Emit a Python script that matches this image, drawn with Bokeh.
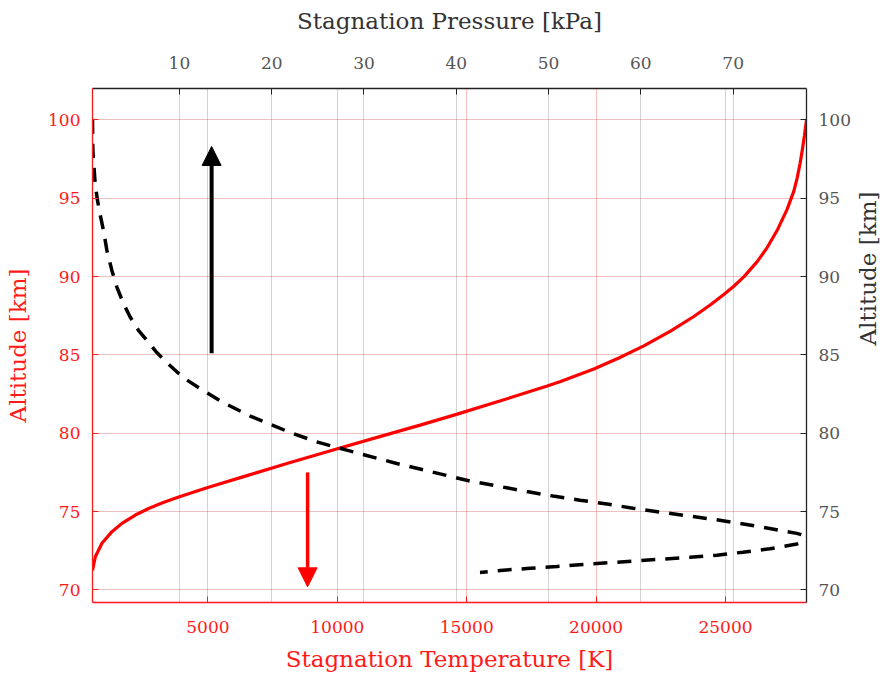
import math
from bokeh.plotting import figure
from bokeh.models import LinearAxis, Range1d, Grid, SingleIntervalTicker, Arrow, NormalHead
from bokeh.embed import file_html
from bokeh.resources import INLINE

# Stagnation temperature [K] vs altitude [km] (red solid curve)
temperature = [540, 650, 905, 1291, 1678, 2195, 2709, 3223, 3868, 5027, 6572, 8118, 9970,
               11672, 13200, 14635, 16308, 18112, 18626, 19912, 20878, 21844, 22875, 23776, 24421,
               24934, 25321, 25707, 26225, 26611, 26997, 27384, 27641, 27770, 27880, 27970, 28050, 28130]
alt_temperature = [71.25, 72.12, 72.98, 73.72, 74.25, 74.78, 75.2, 75.55, 75.93, 76.55, 77.33, 78.1, 79.0,
                   79.8, 80.52, 81.22, 82.07, 83.02, 83.3, 84.1, 84.8, 85.58, 86.52, 87.45, 88.2,
                   88.85, 89.38, 89.98, 90.95, 91.85, 92.95, 94.3, 95.45, 96.3, 97.2, 98.1, 99.0, 100.0]

# Stagnation pressure [kPa] vs altitude [km] (black dashed curve)
pressure = [0.58, 0.62, 0.87, 1.12, 1.41, 1.77, 2.14, 2.68, 3.22, 3.94, 4.66, 5.56, 6.47, 7.55,
            8.64, 9.72, 10.8, 12.24, 14.6, 17.66, 21.99, 24.88, 28.13, 33.55,
            41.49, 44.74, 47.66, 50.48, 53.4, 56.33, 59.14, 62.07, 65.0, 67.81,
            70.74, 73.67, 76.9, 79.0,
            76.9, 73.98, 71.06, 68.24, 65.32, 62.39, 59.58, 56.65, 53.73, 50.91, 47.99, 45.06, 42.57]
alt_pressure = [100.0, 98.04, 95.92, 94.86, 93.95, 92.94, 91.67, 90.39, 89.33, 88.27, 87.42, 86.57, 85.93, 85.15,
                84.5, 83.92, 83.4, 82.85, 82.0, 81.1, 80.05, 79.45, 78.92, 78.07,
                76.95, 76.6, 76.28, 75.99, 75.73, 75.48, 75.22, 74.97, 74.74, 74.51,
                74.25, 73.95, 73.61, 73.27,
                72.93, 72.63, 72.41, 72.22, 72.08, 71.97, 71.86, 71.74, 71.63, 71.5, 71.38, 71.26, 71.12]

# Arrows (temperature / altitude coordinates)
arrow_up_temperature = 5143
arrow_up_alt = [85.1, 98.3]
arrow_down_temperature = 8852
arrow_down_alt = [77.5, 70.2]

RED = "#ff1a1a"
GREY = "#555555"
FONT = "DejaVu Serif"

p = figure(frame_width=714, frame_height=514,
           x_range=Range1d(540, 28130), y_range=Range1d(69.2, 102.0),
           output_backend="svg", toolbar_location=None,
           min_border_left=92, min_border_right=70, min_border_top=88, min_border_bottom=74,
           x_axis_location="below", y_axis_location="left")
p.extra_x_ranges = {"p": Range1d(0.58, 77.95)}
p.outline_line_color = None
p.background_fill_color = "white"
p.border_fill_color = "white"

# bottom axis (temperature)
xa = p.xaxis[0]
xa.ticker = SingleIntervalTicker(interval=5000)
xa.axis_label = "Stagnation Temperature [K]"
# left axis (altitude)
ya = p.yaxis[0]
ya.ticker = SingleIntervalTicker(interval=5)
ya.axis_label = "Altitude [km]"
for ax in (xa, ya):
    ax.axis_line_color = RED
    ax.major_tick_line_color = RED
    ax.major_label_text_color = RED
    ax.axis_label_text_color = RED

# top axis (pressure)
top = LinearAxis(x_range_name="p", ticker=SingleIntervalTicker(interval=10),
                 axis_label="Stagnation Pressure [kPa]")
p.add_layout(top, "above")
# right axis (altitude)
right = LinearAxis(ticker=SingleIntervalTicker(interval=5), axis_label="Altitude [km]")
p.add_layout(right, "right")
for ax in (top, right):
    ax.axis_line_color = "#222222"
    ax.major_tick_line_color = "#222222"
    ax.major_label_text_color = GREY
    ax.axis_label_text_color = "#333333"

for ax in (xa, ya, top, right):
    ax.axis_line_width = 1.3
    ax.major_tick_in = 6
    ax.major_tick_out = 0
    ax.minor_tick_line_color = None
    ax.major_label_text_font = FONT
    ax.major_label_text_font_size = "17px"
    ax.axis_label_text_font = FONT
    ax.axis_label_text_font_style = "normal"
    ax.axis_label_text_font_size = "23px"
    ax.major_label_standoff = 8
    ax.axis_label_standoff = 10
top.major_label_standoff = 16
top.axis_label_standoff = 20
xa.major_label_standoff = 14
ya.axis_label_standoff = 14
right.axis_label_standoff = 14
right.axis_label_orientation = math.pi / 2

# grids
p.xgrid.grid_line_color = "red"
p.xgrid.grid_line_alpha = 0.25
p.ygrid.grid_line_color = "#c03030"
p.ygrid.grid_line_alpha = 0.3
pgrid = Grid(dimension=0, ticker=top.ticker, x_range_name="p",
             grid_line_color="gray", grid_line_alpha=0.35)
p.add_layout(pgrid)

# curves
p.line(temperature, alt_temperature, line_color="red", line_width=3.2)
p.line(pressure, alt_pressure, x_range_name="p", line_color="black", line_width=3.5,
       line_dash="14 10")

# arrows
p.add_layout(Arrow(end=NormalHead(size=19, fill_color="black", line_color="black"),
                   x_start=arrow_up_temperature, y_start=arrow_up_alt[0],
                   x_end=arrow_up_temperature, y_end=arrow_up_alt[1],
                   line_color="black", line_width=4))
p.add_layout(Arrow(end=NormalHead(size=19, fill_color="red", line_color="red"),
                   x_start=arrow_down_temperature, y_start=arrow_down_alt[0],
                   x_end=arrow_down_temperature, y_end=arrow_down_alt[1],
                   line_color="red", line_width=3.5))

open("out.html", "w").write(file_html(p, INLINE))
